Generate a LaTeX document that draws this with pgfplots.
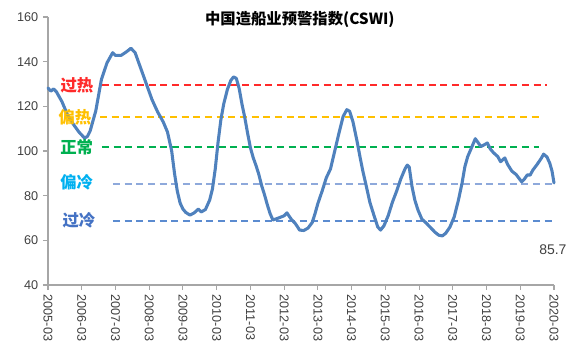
\documentclass[border=0pt]{standalone}
\usepackage{fontspec}
\setmainfont{Liberation Sans}
\newfontfamily\cjk{Noto Sans CJK SC}
\usepackage{pgfplots}
\pgfplotsset{compat=1.18}
\definecolor{lineblue}{HTML}{4F81BD}
\definecolor{axisgray}{HTML}{A6A6A6}
\definecolor{hotred}{HTML}{FF2A2A}
\definecolor{warmorange}{HTML}{FFC000}
\definecolor{okgreen}{HTML}{00B050}
\definecolor{coolline}{HTML}{8EA9DB}
\definecolor{cooltext}{HTML}{00B0F0}
\definecolor{coldline}{HTML}{5B8BD0}
\definecolor{coldtext}{HTML}{4472C4}
\definecolor{ticktext}{HTML}{404040}
\begin{document}
\begin{tikzpicture}
\useasboundingbox (-36pt,-51pt) rectangle (396.75pt,213.75pt);
\begin{axis}[
  at={(0,0)}, anchor=south west,
  scale only axis, width=379.5pt, height=201pt,
  xmin=0, xmax=180, ymin=40, ymax=160,
  axis x line*=bottom, axis y line*=left,
  axis line style={draw=axisgray, line width=1.1pt},
  ytick={40,60,...,160},
  xtick={0,12,...,180},
  xticklabels={2005-03,2006-03,2007-03,2008-03,2009-03,2010-03,2011-03,2012-03,2013-03,2014-03,2015-03,2016-03,2017-03,2018-03,2019-03,2020-03},
  tick align=outside, major tick length=3.75pt,
  tick style={draw=axisgray, line width=0.8pt},
  /pgf/number format/assume math mode=true,
  x tick label style={rotate=-90, anchor=west, font=\fontsize{9.5}{10}\selectfont, text=ticktext},
  y tick label style={font=\fontsize{9.5}{10}\selectfont, text=ticktext},
  clip=false,
]
% warning thresholds
\addplot[hotred, line width=1.5pt, dash pattern=on 5.25pt off 3.5pt] coordinates {(19.2,129.6) (177.5,129.6)};
\addplot[warmorange, line width=1.5pt, dash pattern=on 5.25pt off 3.5pt] coordinates {(18.5,115.3) (174.7,115.3)};
\addplot[okgreen, line width=1.5pt, dash pattern=on 5.25pt off 3.5pt] coordinates {(19.2,101.6) (174.7,101.6)};
\addplot[coolline, line width=1.5pt, dash pattern=on 5.25pt off 3.5pt] coordinates {(23.1,85.2) (179.3,85.2)};
\addplot[coldline, line width=1.5pt, dash pattern=on 5.25pt off 3.5pt] coordinates {(23.1,68.6) (179.3,68.6)};
% CSWI
\addplot[lineblue, line width=2.3pt, line join=round, line cap=round] coordinates {
(0,128.2) (1,126.8) (2,127.8) (3,126.5) (5,122) (7,116) (9,112) (11,108.5)
(13,105.8) (14,106.5) (15,109) (17,118) (19,132) (21,139.5) (23,144) (24,142.8)
(26,142.8) (28,144.5) (29.5,146) (31,144) (33,137) (35,130) (37,123) (39,117.5)
(41,113) (42.5,108.5) (44,100) (45,90) (46,82) (47,76.7) (48,74) (49,72.5)
(50.5,71.3) (52,72.3) (53.5,74) (54.5,72.7) (56,73.8) (57.5,78) (58.5,83) (59.5,92)
(60.5,104) (61.5,114) (62.5,121) (63.8,127.5) (65,131.5) (66,133.2) (67,132.5) (68,128)
(69,121) (70,115) (71,108) (72,101.5) (73,97) (74,93.5) (75,89.5) (76,84.5)
(77,80.5) (78,76) (79,72) (80,69.1) (82,70) (84,71) (85,72.3) (86.5,69.5)
(88,67.5) (89.5,64.6) (91,64.4) (92.5,65.5) (94,68) (95,72) (96,76.5) (97.5,82)
(99,88) (100.5,92) (102,100) (103.5,108) (105,115.5) (106.3,118.5) (107.3,117.8) (108.5,113)
(110,104) (111,97.3) (112,91) (113,85.5) (114.5,77) (116,71) (117.3,66) (118.3,64.6)
(119.5,66.5) (121,71) (122.5,77) (124,82) (125.5,87.5) (127,92) (127.8,93.7) (128.5,92.8)
(129.5,84) (130.5,78) (131.6,73.6) (133,69.5) (134.5,67.8) (136,65.8) (137.7,63.6) (139,62.3)
(140.3,62) (141.5,63.2) (143,66) (144.5,70.5) (146,78) (147.3,85.7) (148.3,93) (149.3,97.5)
(150.5,101) (152,105.5) (154,102) (155.5,103) (156.3,103.6) (157.3,101) (158.5,99.2) (160,97.5)
(161,95.2) (162.5,96.9) (163.5,94) (165,91) (166.5,89.5) (168.5,86.2) (169.5,87.5) (170.5,89.3)
(171.5,89.2) (172.5,91.5) (174,94) (175.5,96.8) (176.3,98.6) (177.5,97.3) (178.5,94.5) (179.3,91)
(180,85.7)
};
% labels
\node[text=hotred, font=\cjk\bfseries\fontsize{12.3}{13}\selectfont] at (axis cs:10.3,129.6) {过热};
\node[text=warmorange, font=\cjk\bfseries\fontsize{12.3}{13}\selectfont] at (axis cs:9.6,115.2) {偏热};
\node[text=okgreen, font=\cjk\bfseries\fontsize{12.3}{13}\selectfont] at (axis cs:10.2,101.8) {正常};
\node[text=cooltext, font=\cjk\bfseries\fontsize{12.3}{13}\selectfont] at (axis cs:10.2,86.2) {偏冷};
\node[text=coldtext, font=\cjk\bfseries\fontsize{12.3}{13}\selectfont] at (axis cs:11,69.1) {过冷};
\node[font=\cjk\bfseries\fontsize{11.5}{12}\selectfont] at (axis cs:89.6,158.7) {中国造船业预警指数(CSWI)};
\node[text=ticktext, font=\fontsize{10.5}{11}\selectfont] at (axis cs:179.6,55.7) {85.7};
\end{axis}
\end{tikzpicture}
\end{document}
